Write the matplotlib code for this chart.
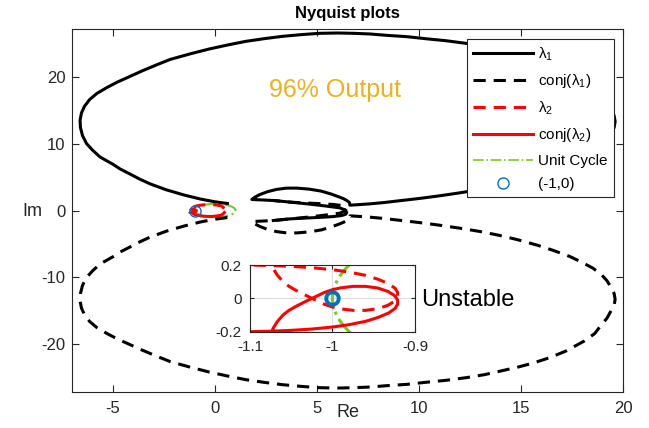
import matplotlib
matplotlib.use('Agg')
import matplotlib.pyplot as plt
from matplotlib.patches import Circle
from matplotlib.lines import Line2D
import numpy as np

# fonts close to the matlab look
plt.rcParams['font.family'] = ['Liberation Sans', 'DejaVu Sans']
plt.rcParams['mathtext.fontset'] = 'custom'
plt.rcParams['mathtext.rm'] = 'Liberation Sans'
plt.rcParams['axes.unicode_minus'] = False

# lambda 1 (ordered along the curve)
lam1_re = [0.6, 0.0, -0.7, -1.5, -2.4, -3.2, -3.7, -4.2, -4.65, -5.0, -5.35, -5.64,
           -6.0, -6.3, -6.5, -6.6, -6.62, -6.55, -6.4, -6.15, -5.8, -5.3, -4.8,
           -4.25, -3.6, -2.9, -2.2, -1.2, -0.3, 0.6, 1.5, 2.4, 3.3, 4.2, 5.1,
           6.0, 6.8, 7.6, 8.4, 9.4, 10.3, 11.3, 12.3, 13.2, 14.0, 14.8, 15.6,
           16.4, 17.2, 18.1, 18.6, 18.9, 19.2, 19.4, 19.55, 19.6, 19.55, 19.4,
           19.2, 18.9, 18.5, 18.0, 17.4, 16.6, 15.8, 14.8, 13.9, 13.0, 12.0, 11.0,
           10.0, 9.0, 8.3, 7.6, 6.9, 6.6, 6.58, 6.45, 6.3, 6.1, 5.7, 5.2, 4.6,
           4.0, 3.5, 3.0, 2.55, 2.2, 1.95, 1.8, 2.3, 2.85, 3.7, 4.5, 5.3, 6.1, 6.35,
           6.45, 6.4, 6.2, 5.8, 5.3, 4.5, 3.67, 2.85]
lam1_im = [1.05, 1.3, 1.7, 2.3, 3.1, 4.0, 4.7, 5.5, 6.2, 6.9, 7.5, 8.0,
           9.0, 10.0, 11.2, 12.4, 13.5, 14.6, 15.6, 16.6, 17.5, 18.4, 19.2,
           19.95, 20.85, 21.75, 22.6, 23.45, 24.15, 24.75, 25.3, 25.7, 26.05, 26.3, 26.5,
           26.55, 26.5, 26.4, 26.2, 26.0, 25.7, 25.4, 25.0, 24.55, 24.0, 23.45, 22.8,
           22.0, 21.0, 19.5, 18.4, 17.2, 16.1, 15.0, 14.2, 13.3, 12.4, 11.5,
           10.5, 9.5, 8.6, 7.8, 6.9, 6.0, 5.2, 4.35, 3.7, 3.15, 2.65, 2.2,
           1.8, 1.45, 1.2, 1.0, 0.85, 0.8, 1.2, 1.5, 1.75, 2.0, 2.45, 2.9, 3.2,
           3.35, 3.35, 3.15, 2.8, 2.4, 2.0, 1.65, 1.58, 1.5, 1.25, 1.0, 0.72, 0.4, 0.1,
           -0.3, -0.55, -0.75, -0.9, -1.0, -1.12, -1.25, -1.5]

# lambda 2, small loop around -1
lam2_re = [0.45, 0.38, 0.3, 0.05, -0.2, -0.45, -0.7, -0.88, -1.0, -1.06, -1.09,
           -1.085, -1.08, -1.075, -1.072, -1.067, -1.06, -1.053, -1.045, -1.036,
           -1.027, -1.018, -1.01, -1.0, -0.99, -0.975, -0.96, -0.945, -0.933,
           -0.925, -0.921, -0.921, -0.924, -0.932, -0.945, -0.96, -0.98, -1.0,
           -1.025, -1.05, -1.075, -1.1, -1.14, -1.18, -1.21, -1.22]
lam2_im = [0.3, 0.52, 0.7, 0.83, 0.9, 0.88, 0.8, 0.71, 0.6, 0.5, 0.4,
           0.33, 0.27, 0.22, 0.18, 0.14, 0.1, 0.073, 0.05, 0.027,
           0.005, -0.016, -0.035, -0.052, -0.063, -0.072, -0.072, -0.062, -0.042,
           -0.018, 0.01, 0.035, 0.06, 0.088, 0.115, 0.138, 0.158, 0.172,
           0.184, 0.192, 0.197, 0.2, 0.205, 0.22, 0.25, 0.3]

crit_point = (-1, 0)
unit_radius = 1.0

lam1_conj = -np.array(lam1_im)
lam2_conj = -np.array(lam2_im)

green = '#74CC22'
blue = '#0072BD'
dash = (4, 2.6)
axcol = '#262626'

fig = plt.figure(figsize=(6.49, 4.28), dpi=100)
ax = fig.add_axes([0.1114, 0.0848, 0.849, 0.8467])

l1, = ax.plot(lam1_re, lam1_im, color='k', lw=2.2, label=r'λ$\mathregular{_1}$')
l1c, = ax.plot(lam1_re, lam1_conj, color='k', lw=2.2, ls='--', dashes=dash,
               label=r'conj(λ$\mathregular{_1}$)')
l2, = ax.plot(lam2_re, lam2_im, color='r', lw=2.2, ls='--', dashes=dash,
              label=r'λ$\mathregular{_2}$')
l2c, = ax.plot(lam2_re, lam2_conj, color='r', lw=2.2, label=r'conj(λ$\mathregular{_2}$)')
ax.add_patch(Circle((0, 0), unit_radius, fill=False, ec=green, ls='-.', lw=1.5))
uc = Line2D([], [], color=green, ls='-.', lw=1.2, label='Unit Cycle')
cp, = ax.plot(crit_point[0], crit_point[1], 'o', mfc='none', mec=blue, ms=8, mew=1,
              label='(-1,0)')

ax.set_xlim(-7, 20)
ax.set_ylim(-27.1, 27.1)
ax.set_xticks([-5, 0, 5, 10, 15, 20])
ax.set_yticks([-20, -10, 0, 10, 20])
ax.tick_params(direction='in', top=True, right=True, labelsize=12, colors=axcol,
               length=5, width=0.8)
ax.tick_params(axis='x', pad=7)
ax.tick_params(axis='y', pad=5)
for s in ax.spines.values():
    s.set_color(axcol)
    s.set_linewidth(0.8)

ax.set_title('Nyquist plots', fontsize=12, fontweight='bold', pad=8)
ax.set_xlabel('Re', fontsize=13, color=axcol, labelpad=-9)
ax.set_ylabel('Im', fontsize=13, color=axcol, rotation=0, ha='center', va='center')
ax.yaxis.set_label_coords(-0.073, 0.496)

ax.text(5.85, 17.0, '96% Output', color='#EDB120', fontsize=18, ha='center', va='baseline')
ax.text(10.1, -14.3, 'Unstable', color='k', fontsize=17, ha='left', va='baseline')

leg = ax.legend(handles=[l1, l1c, l2, l2c, uc, cp], loc='upper right',
                bbox_to_anchor=(0.983, 0.973), borderaxespad=0, fontsize=11,
                fancybox=False, edgecolor=axcol, framealpha=1, handlelength=3.9,
                handletextpad=0.35, labelspacing=0.62, borderpad=0.4)
leg.get_frame().set_linewidth(0.8)

# zoomed inset around the critical point
ins = fig.add_axes([0.3852, 0.225, 0.2542, 0.1558])
ins.plot(lam2_re, lam2_im, color='r', lw=2.2, ls='--', dashes=dash)
ins.plot(lam2_re, lam2_conj, color='r', lw=2.2)
ins.add_patch(Circle((0, 0), unit_radius, fill=False, ec=green, ls='-.', lw=2.2))
ins.plot(crit_point[0], crit_point[1], 'o', mfc='none', mec=blue, ms=9, mew=2.8)
ins.set_xlim(-1.1, -0.9)
ins.set_ylim(-0.2, 0.2)
ins.set_xticks([-1.1, -1, -0.9])
ins.set_xticklabels(['-1.1', '-1', '-0.9'])
ins.set_yticks([-0.2, 0, 0.2])
ins.set_yticklabels(['-0.2', '0', '0.2'])
ins.grid(True, color='#DDDDDD', lw=0.8)
ins.set_axisbelow(True)
ins.tick_params(direction='in', top=True, right=True, labelsize=11, length=3,
                colors=axcol, pad=6)
for s in ins.spines.values():
    s.set_color(axcol)

fig.savefig('out.png', dpi=100)
